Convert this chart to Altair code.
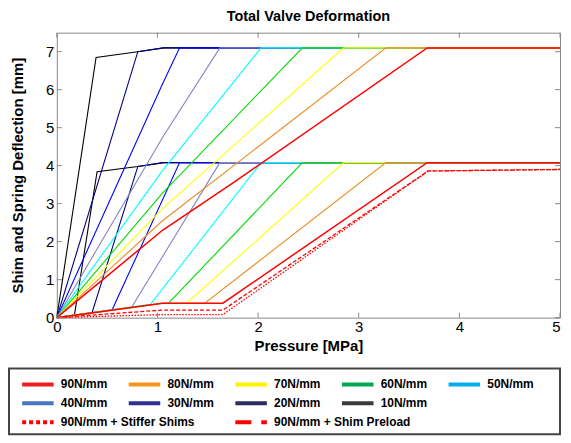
import altair as alt
import pandas as pd

# ---------------- data ----------------
STIFFNESS = ["10N/mm", "20N/mm", "30N/mm", "40N/mm", "50N/mm",
             "60N/mm", "70N/mm", "80N/mm", "90N/mm"]
LINE_COLORS = ["#000000", "#000080", "#0000ff", "#8484c4", "#00ffff",
               "#00dd00", "#ffff00", "#e88c28", "#ff0000"]

# upper family (plateau ~7.1 mm)
UPPER_X = [
    [0, 0.39, 0.805, 1.06, 5.0],
    [0, 0.805, 1.06, 5.0],
    [0, 1.05, 1.22, 5.0],
    [0, 1.05, 1.62, 5.0],
    [0, 1.05, 2.03, 5.0],
    [0, 1.05, 2.44, 5.0],
    [0, 1.05, 2.85, 5.0],
    [0, 1.05, 3.27, 5.0],
    [0, 1.05, 1.78, 3.68, 5.0],
]
UPPER_Y = [
    [0, 6.85, 7.0, 7.1, 7.1],
    [0, 7.0, 7.1, 7.1],
    [0, 6.15, 7.1, 7.1],
    [0, 4.74, 7.1, 7.1],
    [0, 3.87, 7.1, 7.1],
    [0, 3.28, 7.1, 7.1],
    [0, 2.87, 7.1, 7.1],
    [0, 2.55, 7.1, 7.1],
    [0, 2.30, 3.60, 7.1, 7.1],
]

# lower family (plateau ~4.08 mm)
LOWER_X = [
    [0, 0.175, 0.40, 0.805, 1.06, 5.0],
    [0, 0.35, 0.805, 1.06, 5.0],
    [0, 0.55, 1.22, 5.0],
    [0, 0.745, 1.62, 5.0],
    [0, 0.93, 2.03, 5.0],
    [0, 1.05, 1.11, 2.44, 5.0],
    [0, 1.05, 1.29, 2.85, 5.0],
    [0, 1.05, 1.47, 3.27, 5.0],
    [0, 1.05, 1.65, 3.68, 5.0],
]
LOWER_Y = [
    [0, 0.07, 3.84, 3.98, 4.08, 4.08],
    [0, 0.13, 3.98, 4.08, 4.08],
    [0, 0.21, 4.08, 4.08],
    [0, 0.28, 4.08, 4.08],
    [0, 0.35, 4.08, 4.08],
    [0, 0.38, 0.38, 4.08, 4.08],
    [0, 0.38, 0.38, 4.08, 4.08],
    [0, 0.38, 0.38, 4.08, 4.08],
    [0, 0.38, 0.38, 4.08, 4.08],
]

VARIANTS = ["90N/mm + Stiffer Shims", "90N/mm + Shim Preload"]
VARIANT_X = [
    [0, 1.05, 1.65, 3.69, 5.0],
    [0, 1.05, 1.65, 3.69, 5.0],
]
VARIANT_Y = [
    [0, 0.08, 0.08, 3.86, 3.90],
    [0, 0.20, 0.20, 3.86, 3.90],
]
VARIANT_COLORS = ["#ff0000", "#ff0000"]
VARIANT_DASH = [[1.5, 1.5], [4, 2]]

LEGEND_ORDER = ["90N/mm", "80N/mm", "70N/mm", "60N/mm", "50N/mm",
                "40N/mm", "30N/mm", "20N/mm", "10N/mm"]
LEGEND_COLORS = ["#ed1c24", "#f7941d", "#fff200", "#00a651", "#00aeef",
                 "#4a76c0", "#2e3192", "#2b2d5e", "#3a3a3a"]
VARIANT_LEGEND_DASHES = [[4, 3], [16, 10]]

X_TICKS = [0, 1, 2, 3, 4, 5]
Y_TICKS = [0, 1, 2, 3, 4, 5, 6, 7]

# ---------------- build tables ----------------
rows = []
for i, s in enumerate(STIFFNESS):
    for fam, xl, yl in (("upper", UPPER_X, UPPER_Y), ("lower", LOWER_X, LOWER_Y)):
        for xv, yv in zip(xl[i], yl[i]):
            rows.append({"series": s, "curve": f"{s}-{fam}", "x": xv, "y": yv})
for j, s in enumerate(VARIANTS):
    for xv, yv in zip(VARIANT_X[j], VARIANT_Y[j]):
        rows.append({"series": s, "curve": s, "x": xv, "y": yv})
df = pd.DataFrame(rows)

xt = pd.DataFrame({"x": X_TICKS})
yt = pd.DataFrame({"y": Y_TICKS})

W, H = 505, 286
FONT = "Liberation Sans"

x_enc = alt.X("x:Q", scale=alt.Scale(domain=[0, 5], nice=False, zero=False),
              axis=alt.Axis(values=X_TICKS, title="Pressure [MPa]", ticks=False,
                            domain=False, grid=False, labelPadding=2,
                            titlePadding=4, format="d",
                            labelAlign={"condition": {"test": "datum.value == 5", "value": "right"},
                                        "value": "center"}))
y_enc = alt.Y("y:Q", scale=alt.Scale(domain=[0, 7.5], nice=False, zero=False),
              axis=alt.Axis(values=Y_TICKS, title="Shim and Spring Deflection [mm]",
                            ticks=False, domain=False, grid=False, labelPadding=3,
                            titlePadding=20, format="d"))

layers = []
for j, s in enumerate(VARIANTS):
    layers.append(
        alt.Chart(df).transform_filter(alt.datum.series == s)
        .mark_line(color=VARIANT_COLORS[j], strokeWidth=1.3, strokeDash=VARIANT_DASH[j])
        .encode(x=x_enc, y=y_enc, detail="curve:N")
    )
for i, s in enumerate(STIFFNESS):
    layers.append(
        alt.Chart(df).transform_filter(alt.datum.series == s)
        .mark_line(color=LINE_COLORS[i], strokeWidth=1.5 if i == 8 else 1.1)
        .encode(x=x_enc, y=y_enc, detail="curve:N")
    )

common_legend = dict(
    title=None, orient="none", direction="horizontal",
    symbolType="stroke", symbolSize=1000, symbolStrokeWidth=4,
    clipHeight=16, rowPadding=3, labelFont=FONT, labelFontSize=12,
    labelFontWeight="bold", labelLimit=300, labelOffset=5, padding=0,
    labelColor="black",
)

# legend box (decoration)
box = (
    alt.Chart(pd.DataFrame({"k": [0]}))
    .mark_rect(fill="white", stroke="#444444", strokeWidth=2)
    .encode(x=alt.value(-48), x2=alt.value(505), y=alt.value(337), y2=alt.value(403))
)
layers.append(box)

legend_layer = (
    alt.Chart(df).transform_filter("false").mark_line()
    .encode(
        x=x_enc, y=y_enc,
        color=alt.Color("series:N", scale=alt.Scale(domain=LEGEND_ORDER, range=LEGEND_COLORS),
                        legend=alt.Legend(legendX=-37, legendY=345, columns=5,
                                          columnPadding=19, **common_legend)),
    )
)
dash_layer = (
    alt.Chart(df).transform_filter("false").mark_line(color="#ff0000")
    .encode(
        x=x_enc, y=y_enc,
        strokeDash=alt.StrokeDash("series:N",
                                  scale=alt.Scale(domain=VARIANTS, range=VARIANT_LEGEND_DASHES),
                                  legend=alt.Legend(legendX=-37, legendY=383, columns=2,
                                                    columnPadding=38, **common_legend)),
    )
)
layers += [legend_layer, dash_layer]

tick_color = "#888888"
layers += [
    alt.Chart(xt).mark_rule(color=tick_color).encode(x=x_enc, y=alt.value(H), y2=alt.value(H - 5)),
    alt.Chart(xt).mark_rule(color=tick_color).encode(x=x_enc, y=alt.value(0), y2=alt.value(5)),
    alt.Chart(yt).mark_rule(color=tick_color).encode(y=y_enc, x=alt.value(0), x2=alt.value(5)),
    alt.Chart(yt).mark_rule(color=tick_color).encode(y=y_enc, x=alt.value(W - 5), x2=alt.value(W)),
]

chart = (
    alt.layer(*layers)
    .properties(width=W, height=H, padding=0,
                title=alt.Title("Total Valve Deformation", font=FONT, fontSize=14.5,
                                fontWeight="bold", frame="group", anchor="middle",
                                offset=8, color="black"))
    .configure_view(stroke="#888888", strokeWidth=1)
    .configure_axis(labelFont=FONT, labelFontSize=15, labelColor="black",
                    titleFont=FONT, titleFontSize=15, titleFontWeight="bold",
                    titleColor="black")
)

chart.save("out.html", embed_options={"renderer": "svg", "actions": False})
